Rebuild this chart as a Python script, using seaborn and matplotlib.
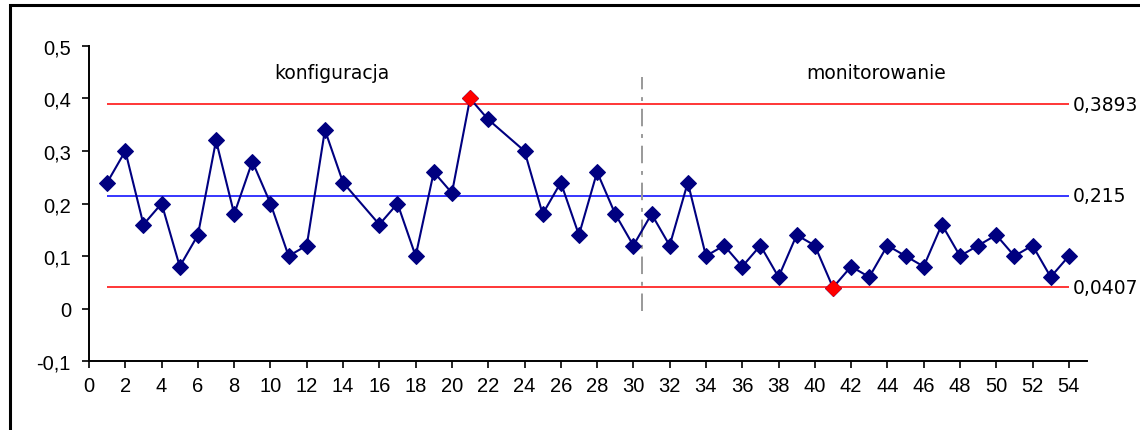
import numpy as np
import pandas as pd
import matplotlib.pyplot as plt
import seaborn as sns
from matplotlib.patches import Rectangle

# sample numbers (15 and 23 missing) and measured values
samples = [1, 2, 3, 4, 5, 6, 7, 8, 9, 10, 11, 12, 13, 14, 16, 17, 18, 19, 20,
           21, 22, 24, 25, 26, 27, 28, 29, 30, 31, 32, 33, 34, 35, 36, 37, 38,
           39, 40, 41, 42, 43, 44, 45, 46, 47, 48, 49, 50, 51, 52, 53, 54]
values = [0.24, 0.30, 0.16, 0.20, 0.08, 0.14, 0.32, 0.18, 0.28, 0.20, 0.10,
          0.12, 0.34, 0.24, 0.16, 0.20, 0.10, 0.26, 0.22, 0.40, 0.36, 0.30,
          0.18, 0.24, 0.14, 0.26, 0.18, 0.12, 0.18, 0.12, 0.24, 0.10, 0.12,
          0.08, 0.12, 0.06, 0.14, 0.12, 0.04, 0.08, 0.06, 0.12, 0.10, 0.08,
          0.16, 0.10, 0.12, 0.14, 0.10, 0.12, 0.06, 0.10]
out_samples = [21, 41]

ucl = 0.3893
cl = 0.215
lcl = 0.0407
limit_labels = ['0,3893', '0,215', '0,0407']
phase_labels = ['konfiguracja', 'monitorowanie']
phase_split = 30.5

df = pd.DataFrame({'sample': samples, 'value': values})
df_out = df[df['sample'].isin(out_samples)]

sns.set_style('ticks')
plt.rcParams['font.family'] = ['Liberation Sans', 'DejaVu Sans']
plt.rcParams['text.color'] = 'black'
plt.rcParams['xtick.color'] = 'black'
plt.rcParams['ytick.color'] = 'black'

fig = plt.figure(figsize=(11.4, 4.31), dpi=100)
ax = fig.add_axes([0.0781, 0.160, 0.8754, 0.731])

# outer chart frame
fig.patches.append(Rectangle((10 / 1140, -0.1), 1.2, 1.1 - 6 / 431,
                             transform=fig.transFigure, fill=False,
                             edgecolor='black', linewidth=2.2, zorder=0))

ax.hlines([ucl, lcl], 1, 54, colors='#ff0000', linewidth=1.1, zorder=1)
ax.hlines(cl, 1, 54, colors='#0000ff', linewidth=1.1, zorder=1)
ax.vlines(phase_split, -0.005, 0.44, colors='#999999', linewidth=1.4,
          linestyles=(0, (9, 4, 2, 4)), zorder=1)

sns.lineplot(data=df, x='sample', y='value', ax=ax, color='#000080',
             linewidth=1.5, marker='D', markersize=8,
             markeredgecolor='#000080', markerfacecolor='#000080', zorder=3)
sns.scatterplot(data=df_out, x='sample', y='value', ax=ax, color='#ff0000',
                marker='D', s=64, edgecolor='#ff0000', zorder=4)

for val, lab in zip([ucl, cl, lcl], limit_labels):
    ax.text(54.2, val, lab, ha='left', va='center', fontsize=13.5,
            color='black', family=['DejaVu Sans'])

ax.text(13.4, 0.449, phase_labels[0], ha='center', va='center',
        fontsize=13.5, color='black', family=['DejaVu Sans'])
ax.text(43.4, 0.449, phase_labels[1], ha='center', va='center',
        fontsize=13.5, color='black', family=['DejaVu Sans'])

ax.set_xlim(0, 55)
ax.set_ylim(-0.1, 0.5)
ax.set_xticks(np.arange(0, 55, 2))
ax.set_yticks(np.arange(-0.1, 0.51, 0.1))
ax.set_yticklabels(['-0,1', '0', '0,1', '0,2', '0,3', '0,4', '0,5'])
ax.tick_params(axis='both', labelsize=14.5, length=5, width=1.2,
               color='black', labelcolor='black', pad=6)
ax.tick_params(axis='y', pad=8)
ax.set_xlabel('')
ax.set_ylabel('')
for side in ['top', 'right']:
    ax.spines[side].set_visible(False)
for side in ['left', 'bottom']:
    ax.spines[side].set_color('black')
    ax.spines[side].set_linewidth(1.4)

fig.savefig('out.png', dpi=100)
